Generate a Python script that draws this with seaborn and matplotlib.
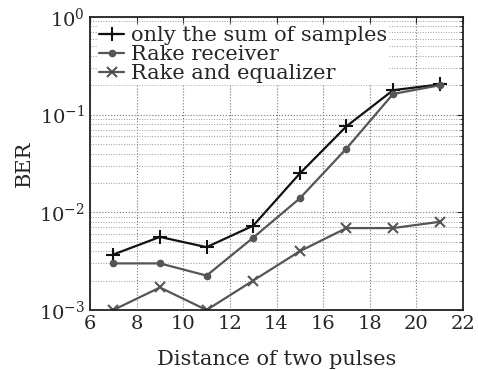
import matplotlib
matplotlib.use("Agg")
import matplotlib.pyplot as plt
import seaborn as sns
import pandas as pd
import numpy as np

distance = [7, 9, 11, 13, 15, 17, 19, 21]
ber_sum = [0.0037, 0.0056, 0.0044, 0.0073, 0.025, 0.076, 0.178, 0.204]
ber_rake = [0.0030, 0.0030, 0.00225, 0.0055, 0.0139, 0.045, 0.163, 0.200]
ber_eq = [0.0010, 0.0017, 0.0010, 0.0020, 0.0040, 0.0069, 0.0069, 0.0080]
series_names = ["only the sum of samples", "Rake receiver", "Rake and equalizer"]

sns.set_style("white")
plt.rcParams['font.family'] = ['DejaVu Serif']
plt.rcParams['mathtext.fontset'] = 'dejavuserif'

df = pd.DataFrame({
    "x": distance * 3,
    "y": ber_sum + ber_rake + ber_eq,
    "s": [series_names[0]] * 8 + [series_names[1]] * 8 + [series_names[2]] * 8,
})

fig = plt.figure(figsize=(4.78, 3.70), dpi=100)
ax = fig.add_axes([90/478, 1 - 310/370, (463-90)/478, (310-17)/370])

palette = {series_names[0]: "#111111", series_names[1]: "#555555", series_names[2]: "#555555"}
markers = {series_names[0]: "+", series_names[1]: ".", series_names[2]: "x"}
msize = {series_names[0]: 10, series_names[1]: 8, series_names[2]: 7}
for name in series_names:
    sub = df[df.s == name]
    sns.lineplot(data=sub, x="x", y="y", ax=ax, color=palette[name], marker=markers[name],
                 markersize=msize[name], markeredgewidth=1.5,
                 linewidth=1.6, label=name, markeredgecolor=palette[name])

ax.set_yscale("log")
ax.set_xlim(6, 22)
ax.set_ylim(1e-3, 1)
ax.set_xticks(range(6, 23, 2))
ax.set_yticks([1e-3, 1e-2, 1e-1, 1])
ax.set_yticklabels([r"$10^{-3}$", r"$10^{-2}$", r"$10^{-1}$", r"$10^{0}$"])
ax.grid(True, which="major", axis="both", linestyle=":", color="#777777", linewidth=0.8)
ax.grid(True, which="minor", axis="y", linestyle=":", color="#999999", linewidth=0.7)
ax.tick_params(axis="both", which="both", direction="in", labelsize=14, length=4, top=True, right=True)
ax.tick_params(axis="y", which="minor", length=2)
for sp in ax.spines.values():
    sp.set_linewidth(1.3)
    sp.set_color("#222222")
ax.set_xlabel("Distance of two pulses", fontsize=15, labelpad=12)
ax.set_ylabel("BER", fontsize=15)
leg = ax.legend(loc="upper left", fontsize=15, frameon=True, framealpha=1, edgecolor="white",
                borderpad=0.05, labelspacing=0.0, handlelength=1.2, handletextpad=0.3,
                borderaxespad=0.4, fancybox=False)
fig.savefig("out.png", dpi=100)
